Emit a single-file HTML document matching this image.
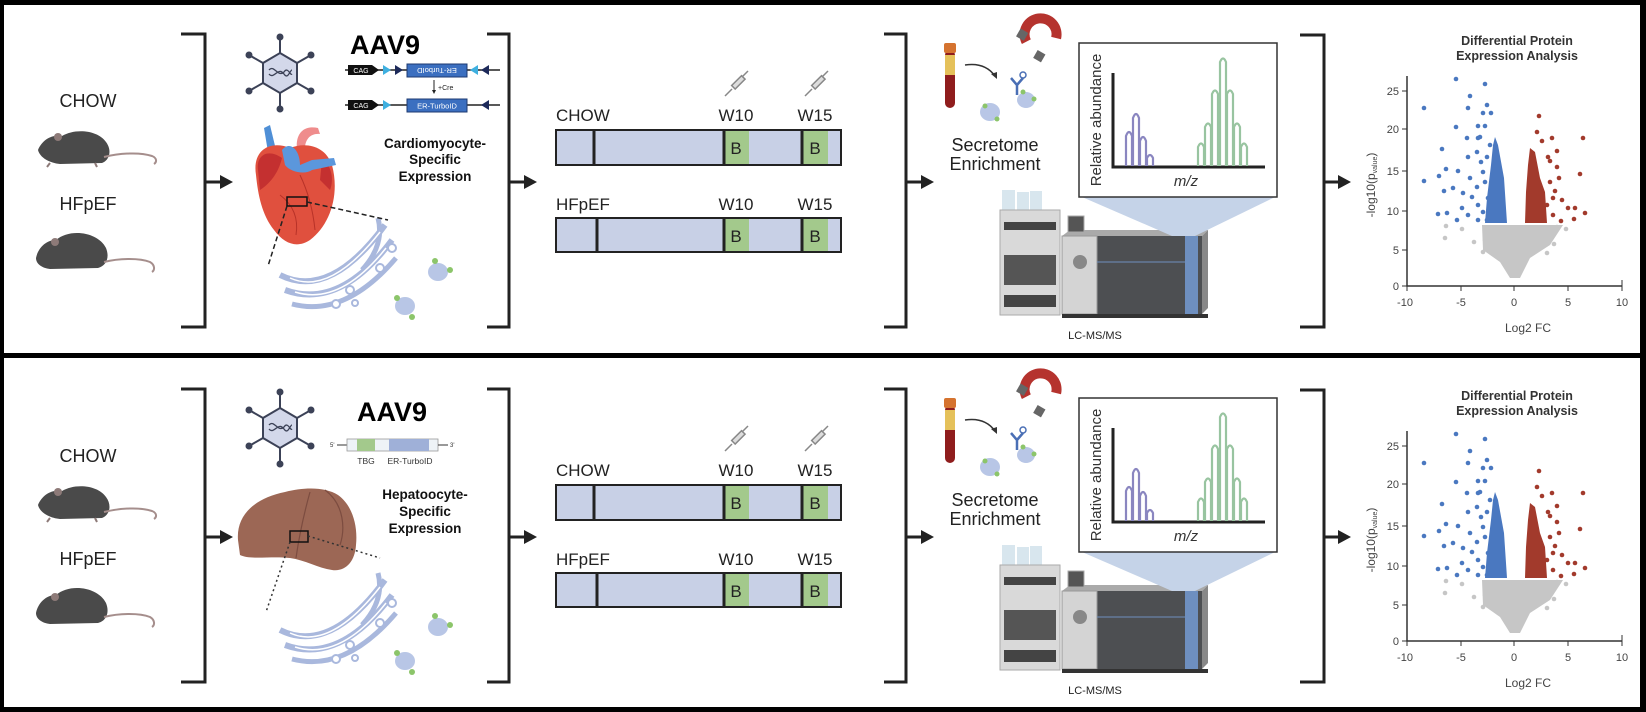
<!DOCTYPE html>
<html><head><meta charset="utf-8"><style>
html,body{margin:0;padding:0;background:#fff;}
svg{display:block;font-family:"Liberation Sans",Arial,sans-serif;}
</style></head><body>
<svg width="1646" height="712" viewBox="0 0 1646 712" xmlns="http://www.w3.org/2000/svg">
<defs>
<g id="mice">
  <!-- mouse 1 -->
  <path d="M38,150 C42,140 52,134 62,136 C75,128 98,130 106,142 C112,150 110,160 102,163 L60,164 C50,163 40,158 38,150 Z" fill="#4a4a4a"/>
  <circle cx="58" cy="137" r="4" fill="#8d7a78"/>
  <path d="M104,157 C120,153 140,152 152,156 C157,158 157,162 154,164" fill="none" stroke="#a58e8c" stroke-width="2"/>
  <path d="M50,163 l-3,4 M95,163 l2,4" stroke="#8d7a78" stroke-width="2"/>
  <!-- mouse 2 -->
  <path d="M36,258 C38,248 46,240 56,240 C70,228 98,232 106,248 C110,258 106,266 98,268 L50,269 C42,268 36,264 36,258 Z" fill="#4a4a4a"/>
  <circle cx="55" cy="242" r="4" fill="#8d7a78"/>
  <path d="M104,262 C120,258 140,258 150,262 C155,265 155,270 152,272" fill="none" stroke="#a58e8c" stroke-width="2"/>
  <!-- brackets & arrows -->
  <path d="M181,34 H205 V327 H181" fill="none" stroke="#222" stroke-width="3"/>
  <path d="M205,182 H222" stroke="#222" stroke-width="3"/><path d="M220,175 L233,182 L220,189 Z" fill="#222"/>
  <path d="M487,34 H509 V327 H487" fill="none" stroke="#222" stroke-width="3"/>
  <path d="M509,182 H526" stroke="#222" stroke-width="3"/><path d="M524,175 L537,182 L524,189 Z" fill="#222"/>
  <path d="M884,34 H906 V327 H884" fill="none" stroke="#222" stroke-width="3"/>
  <path d="M906,182 H923" stroke="#222" stroke-width="3"/><path d="M921,175 L934,182 L921,189 Z" fill="#222"/>
  <path d="M1300,35 H1324 V327 H1300" fill="none" stroke="#222" stroke-width="3"/>
  <path d="M1324,182 H1340" stroke="#222" stroke-width="3"/><path d="M1338,175 L1351,182 L1338,189 Z" fill="#222"/>
  <!-- hexagon virus -->
  <g stroke="#3c4257" stroke-width="2" fill="#3c4257">
    <line x1="280" y1="53" x2="280" y2="37"/><circle cx="280" cy="37" r="2.5"/>
    <line x1="280" y1="93" x2="280" y2="109"/><circle cx="280" cy="109" r="2.5"/>
    <line x1="263" y1="63" x2="249" y2="55"/><circle cx="249" cy="55" r="2.5"/>
    <line x1="297" y1="63" x2="311" y2="55"/><circle cx="311" cy="55" r="2.5"/>
    <line x1="263" y1="83" x2="249" y2="91"/><circle cx="249" cy="91" r="2.5"/>
    <line x1="297" y1="83" x2="311" y2="91"/><circle cx="311" cy="91" r="2.5"/>
  </g>
  <polygon points="280,53 297,63 297,83 280,93 263,83 263,63" fill="#d3d8ea" stroke="#3c4257" stroke-width="2"/>
  <path d="M269,70 C274,64 278,78 284,72 C288,66 290,76 292,74 M269,74 C274,80 278,66 284,74 C288,80 290,70 292,70" fill="none" stroke="#3c4257" stroke-width="1.3"/>
  <!-- ER -->
  <g fill="none" stroke="#a9b8dd">
    <path d="M280,275 Q330,300 385,225" stroke-width="6"/>
    <path d="M285,290 Q340,310 392,240" stroke-width="6"/>
    <path d="M292,304 Q345,318 396,258" stroke-width="5"/>
    <path d="M378,218 Q385,245 362,270" stroke-width="5"/>
  </g>
  <g fill="none" stroke="#fff" stroke-width="1.5">
    <path d="M290,278 Q330,296 380,232"/><path d="M295,292 Q340,306 386,248"/>
  </g>
  <g fill="#fff" stroke="#a9b8dd" stroke-width="2">
    <circle cx="392" cy="248" r="4"/><circle cx="380" cy="268" r="4"/><circle cx="350" cy="290" r="4"/>
    <circle cx="336" cy="304" r="4"/><circle cx="355" cy="303" r="3"/>
  </g>
  <!-- proteins -->
  <ellipse cx="438" cy="272" rx="10" ry="9" fill="#b8c6e6"/>
  <circle cx="435" cy="261" r="3" fill="#8cc56a"/><circle cx="450" cy="270" r="3" fill="#8cc56a"/>
  <ellipse cx="405" cy="306" rx="10" ry="9" fill="#b8c6e6"/>
  <circle cx="397" cy="298" r="3" fill="#8cc56a"/><circle cx="412" cy="317" r="3" fill="#8cc56a"/>
  <!-- timeline -->
  <g stroke="#222" stroke-width="2">
    <rect x="556" y="130" width="285" height="35" fill="#c8d0e6"/>
    <rect x="724" y="131" width="25" height="33" fill="#a3c98c" stroke="none"/>
    <rect x="802" y="131" width="26" height="33" fill="#a3c98c" stroke="none"/>
    <line x1="594" y1="130" x2="594" y2="165" stroke-width="3"/>
    <line x1="724" y1="130" x2="724" y2="165" stroke-width="3"/>
    <line x1="802" y1="130" x2="802" y2="165" stroke-width="3"/>
    <rect x="556" y="218" width="285" height="34" fill="#c8d0e6"/>
    <rect x="724" y="219" width="25" height="32" fill="#a3c98c" stroke="none"/>
    <rect x="802" y="219" width="26" height="32" fill="#a3c98c" stroke="none"/>
    <line x1="597" y1="218" x2="597" y2="252" stroke-width="3"/>
    <line x1="724" y1="218" x2="724" y2="252" stroke-width="3"/>
    <line x1="802" y1="218" x2="802" y2="252" stroke-width="3"/>
  </g>
  <g stroke="#888" stroke-width="1.5" fill="#ddd">
    <line x1="725" y1="96" x2="732" y2="89"/><rect x="731" y="80" width="14" height="5" transform="rotate(-45 738 82)"/><line x1="742" y1="77" x2="748" y2="71"/>
    <line x1="805" y1="96" x2="812" y2="89"/><rect x="811" y="80" width="14" height="5" transform="rotate(-45 818 82)"/><line x1="822" y1="77" x2="828" y2="71"/>
  </g>
  <!-- tube, magnet, antibody -->
  <rect x="945" y="50" width="10" height="58" rx="5" fill="#8f1d1d"/>
  <rect x="945" y="55" width="10" height="20" fill="#e5c15a"/>
  <rect x="944" y="43" width="12" height="10" rx="2" fill="#d5732f"/>
  <path d="M965,65 Q985,62 995,76" fill="none" stroke="#333" stroke-width="1.5"/><path d="M991,74 l6,5 l0,-7 z" fill="#333"/>
  <path d="M1030,48 A16,16 0 1 1 1054,30" fill="none" stroke="#b5332e" stroke-width="10" transform="rotate(30 1040 38)"/>
  <rect x="1018" y="30" width="9" height="9" fill="#666" transform="rotate(30 1022 34)"/>
  <rect x="1035" y="52" width="9" height="9" fill="#666" transform="rotate(30 1040 56)"/>
  <path d="M1017,95 L1017,85 L1011,78 M1017,85 L1023,78" fill="none" stroke="#4a6fb5" stroke-width="2.5"/>
  <circle cx="1023" cy="75" r="3" fill="none" stroke="#4a6fb5" stroke-width="1.5"/>
  <ellipse cx="990" cy="112" rx="10" ry="9" fill="#b8c6e6"/><circle cx="985" cy="106" r="2.5" fill="#8cc56a"/><circle cx="997" cy="119" r="2.5" fill="#8cc56a"/>
  <ellipse cx="1026" cy="100" rx="9" ry="8" fill="#b8c6e6"/><circle cx="1023" cy="92" r="2.5" fill="#8cc56a"/><circle cx="1034" cy="99" r="2.5" fill="#8cc56a"/>
  <!-- instrument -->
  <rect x="1002" y="190" width="13" height="20" fill="#d8e6ee"/><rect x="1017" y="192" width="12" height="18" fill="#d8e6ee"/><rect x="1030" y="191" width="12" height="19" fill="#d8e6ee"/>
  <rect x="1000" y="210" width="60" height="105" fill="#d9d9d9" stroke="#aaa"/>
  <rect x="1004" y="222" width="52" height="8" fill="#444"/>
  <rect x="1004" y="255" width="52" height="30" fill="#555"/>
  <rect x="1004" y="295" width="52" height="12" fill="#444"/>
  <rect x="1062" y="236" width="140" height="78" fill="#4d4f52"/>
  <path d="M1062,236 L1070,230 L1208,230 L1202,236 Z" fill="#aaa"/>
  <path d="M1202,236 L1208,230 L1208,308 L1202,314 Z" fill="#888"/>
  <rect x="1185" y="236" width="13" height="78" fill="#6e8fbf"/>
  <rect x="1062" y="236" width="35" height="78" fill="#d4d4d4" stroke="#999"/>
  <rect x="1068" y="216" width="16" height="16" fill="#555" stroke="#aaa"/>
  <circle cx="1080" cy="262" r="7" fill="#888"/>
  <line x1="1097" y1="262" x2="1185" y2="262" stroke="#6e8fbf" stroke-width="1"/>
  <rect x="1062" y="314" width="146" height="4" fill="#333"/>
  <!-- MS cone and box -->
  <polygon points="1082,197 1275,197 1195,236 1172,236" fill="#c5d3e8"/>
  <rect x="1079" y="43" width="198" height="154" fill="#fff" stroke="#333" stroke-width="1.5"/>
  <path d="M1113,73 V167 H1265" fill="none" stroke="#222" stroke-width="3"/>
  <g fill="none" stroke="#8a86c0" stroke-width="2.2">
    <path d="M1126,166 V136 Q1129,128 1132,136 V166"/>
    <path d="M1133,166 V118 Q1136,110 1139,118 V166"/>
    <path d="M1140,166 V141 Q1143,133 1146,141 V166"/>
    <path d="M1147,166 V158 Q1150,152 1153,158 V166"/>
  </g>
  <g fill="none" stroke="#98c4a0" stroke-width="2.2">
    <path d="M1198,166 V147 Q1201,140 1204,147 V166"/>
    <path d="M1205,166 V127 Q1208,120 1211,127 V166"/>
    <path d="M1212,166 V94 Q1215,87 1218,94 V166"/>
    <path d="M1220,166 V62 Q1223,55 1226,62 V166"/>
    <path d="M1227,166 V94 Q1230,87 1233,94 V166"/>
    <path d="M1234,166 V127 Q1237,120 1240,127 V166"/>
    <path d="M1241,166 V147 Q1244,140 1247,147 V166"/>
  </g>
  <!-- volcano -->
  <polygon points="1482,225 1563,225 1550,245 1530,258 1520,278 1510,278 1500,262 1483,250" fill="#c6c6c6"/>
  <polygon points="1495,137 1498,145 1504,178 1507,223 1485,223 1487,198 1491,165 1493,145" fill="#4a78c0"/>
  <polygon points="1530,148 1535,152 1540,178 1545,192 1547,223 1525,223 1526,192 1528,165" fill="#a23a2c"/>
  <g fill="#4a78c0">
    <circle cx="1424" cy="108" r="2.3"/><circle cx="1456" cy="79" r="2.3"/><circle cx="1485" cy="84" r="2.3"/><circle cx="1470" cy="96" r="2.3"/><circle cx="1487" cy="105" r="2.3"/><circle cx="1468" cy="108" r="2.3"/><circle cx="1456" cy="127" r="2.3"/><circle cx="1478" cy="126" r="2.3"/><circle cx="1485" cy="126" r="2.3"/><circle cx="1467" cy="138" r="2.3"/><circle cx="1442" cy="149" r="2.3"/><circle cx="1424" cy="181" r="2.3"/><circle cx="1446" cy="169" r="2.3"/><circle cx="1439" cy="176" r="2.3"/><circle cx="1458" cy="171" r="2.3"/><circle cx="1468" cy="157" r="2.3"/><circle cx="1444" cy="191" r="2.3"/><circle cx="1453" cy="188" r="2.3"/><circle cx="1462" cy="208" r="2.3"/><circle cx="1438" cy="214" r="2.3"/><circle cx="1447" cy="213" r="2.3"/><circle cx="1457" cy="220" r="2.3"/><circle cx="1468" cy="215" r="2.3"/><circle cx="1478" cy="205" r="2.3"/><circle cx="1477" cy="187" r="2.3"/><circle cx="1483" cy="172" r="2.3"/><circle cx="1487" cy="157" r="2.3"/><circle cx="1490" cy="145" r="2.3"/><circle cx="1477" cy="152" r="2.3"/><circle cx="1481" cy="162" r="2.3"/><circle cx="1470" cy="178" r="2.3"/><circle cx="1485" cy="182" r="2.3"/><circle cx="1488" cy="198" r="2.3"/><circle cx="1483" cy="212" r="2.3"/><circle cx="1478" cy="220" r="2.3"/><circle cx="1487" cy="220" r="2.3"/><circle cx="1472" cy="197" r="2.3"/><circle cx="1463" cy="193" r="2.3"/><circle cx="1480" cy="137" r="2.3"/><circle cx="1491" cy="113" r="2.3"/><circle cx="1483" cy="113" r="2.3"/><circle cx="1478" cy="138" r="2.3"/>
  </g>
  <g fill="#a23a2c">
    <circle cx="1539" cy="116" r="2.3"/><circle cx="1537" cy="132" r="2.3"/><circle cx="1542" cy="141" r="2.3"/><circle cx="1552" cy="138" r="2.3"/><circle cx="1583" cy="138" r="2.3"/><circle cx="1557" cy="151" r="2.3"/><circle cx="1550" cy="161" r="2.3"/><circle cx="1557" cy="167" r="2.3"/><circle cx="1559" cy="178" r="2.3"/><circle cx="1580" cy="174" r="2.3"/><circle cx="1555" cy="191" r="2.3"/><circle cx="1562" cy="200" r="2.3"/><circle cx="1568" cy="208" r="2.3"/><circle cx="1575" cy="208" r="2.3"/><circle cx="1585" cy="213" r="2.3"/><circle cx="1574" cy="219" r="2.3"/><circle cx="1561" cy="221" r="2.3"/><circle cx="1553" cy="215" r="2.3"/><circle cx="1547" cy="205" r="2.3"/><circle cx="1553" cy="198" r="2.3"/><circle cx="1550" cy="182" r="2.3"/><circle cx="1548" cy="157" r="2.3"/>
  </g>
  <g fill="#c6c6c6">
    <circle cx="1446" cy="226" r="2.3"/><circle cx="1445" cy="238" r="2.3"/><circle cx="1462" cy="229" r="2.3"/><circle cx="1474" cy="242" r="2.3"/><circle cx="1483" cy="252" r="2.3"/><circle cx="1533" cy="228" r="2.3"/><circle cx="1547" cy="240" r="2.3"/><circle cx="1557" cy="227" r="2.3"/><circle cx="1566" cy="229" r="2.3"/><circle cx="1554" cy="244" r="2.3"/><circle cx="1547" cy="253" r="2.3"/><circle cx="1485" cy="240" r="2.3"/><circle cx="1543" cy="235" r="2.3"/>
  </g>
  <path d="M1407,76 V286 H1622" fill="none" stroke="#333" stroke-width="1.5"/>
  <g stroke="#333" stroke-width="1">
    <line x1="1402" y1="91" x2="1407" y2="91"/><line x1="1402" y1="129" x2="1407" y2="129"/><line x1="1402" y1="171" x2="1407" y2="171"/><line x1="1402" y1="211" x2="1407" y2="211"/><line x1="1402" y1="250" x2="1407" y2="250"/><line x1="1402" y1="286" x2="1407" y2="286"/>
    <line x1="1407" y1="286" x2="1407" y2="291"/><line x1="1461" y1="286" x2="1461" y2="291"/><line x1="1514" y1="286" x2="1514" y2="291"/><line x1="1568" y1="286" x2="1568" y2="291"/><line x1="1622" y1="280" x2="1622" y2="291"/>
  </g>
</defs>

<!-- panel frames -->
<rect x="0" y="0" width="1646" height="5" fill="#000"/>
<rect x="0" y="353" width="1646" height="5" fill="#000"/>
<rect x="0" y="707" width="1646" height="5" fill="#000"/>
<rect x="0" y="0" width="4" height="712" fill="#000"/>
<rect x="1640" y="0" width="6" height="712" fill="#000"/>

<use href="#mice"/>
<use href="#mice" y="355"/>

<!-- ===== TOP PANEL TEXT & UNIQUE ===== -->
<g font-size="18" fill="#222" text-anchor="middle">
  <text x="88" y="107">CHOW</text><text x="88" y="210">HFpEF</text>
  <text x="88" y="462">CHOW</text><text x="88" y="565">HFpEF</text>
</g>
<text x="350" y="54" font-size="27" font-weight="bold" fill="#000">AAV9</text>
<!-- construct top -->
<line x1="345" y1="70" x2="500" y2="70" stroke="#222" stroke-width="1.5"/>
<path d="M348,65 H372 L379,70 L372,75 H348 Z" fill="#111"/><text x="361" y="73" font-size="7" fill="#fff" text-anchor="middle">CAG</text>
<path d="M383,65 L391,70 L383,75 Z" fill="#3fb0e0"/><path d="M395,65 L403,70 L395,75 Z" fill="#1d2a5a"/>
<rect x="407" y="64" width="60" height="13" fill="#3b6fc0" stroke="#1d3a70"/>
<text x="437" y="73" font-size="7.5" fill="#fff" text-anchor="middle" transform="rotate(180 437 70.5)">ER-TurboID</text>
<path d="M478,65 L470,70 L478,75 Z" fill="#3fb0e0"/><path d="M489,65 L481,70 L489,75 Z" fill="#1d2a5a"/>
<line x1="434" y1="80" x2="434" y2="92" stroke="#222" stroke-width="1"/><path d="M432,90 L434,94 L436,90 Z" fill="#222"/>
<text x="438" y="90" font-size="7" fill="#222">+Cre</text>
<line x1="345" y1="105" x2="500" y2="105" stroke="#222" stroke-width="1.5"/>
<path d="M348,100 H372 L379,105 L372,110 H348 Z" fill="#111"/><text x="361" y="108" font-size="7" fill="#fff" text-anchor="middle">CAG</text>
<path d="M383,100 L391,105 L383,110 Z" fill="#3fb0e0"/>
<rect x="407" y="99" width="60" height="13" fill="#3b6fc0" stroke="#1d3a70"/>
<text x="437" y="108.5" font-size="7.5" fill="#fff" text-anchor="middle">ER-TurboID</text>
<path d="M489,100 L481,105 L489,110 Z" fill="#1d2a5a"/>
<g font-size="13.5" font-weight="bold" fill="#111" text-anchor="middle">
  <text x="435" y="148">Cardiomyocyte-</text><text x="435" y="164">Specific</text><text x="435" y="181">Expression</text>
</g>
<!-- heart -->
<path d="M264,128 L270,125 L276,150 L268,152 Z" fill="#4f8fd6"/>
<path d="M297,150 C295,132 305,125 318,128 L320,134 C310,133 304,140 305,152 Z" fill="#ef8c8c"/>
<path d="M256,175 C252,150 270,140 290,148 C305,142 325,145 332,165 C340,195 330,225 310,240 C298,248 285,245 274,230 C262,215 258,195 256,175 Z" fill="#e0503e"/>
<path d="M258,170 C256,155 268,148 282,158 C278,175 268,185 260,190 Z" fill="#c43030"/>
<path d="M322,160 C332,165 334,180 330,190 L320,180 Z" fill="#c43030"/>
<path d="M282,150 C290,140 300,150 300,165 L312,160 L334,158 L336,165 L312,170 C305,175 290,172 285,165 Z" fill="#5b97dc"/>
<path d="M280,195 Q300,210 296,235 M300,175 Q312,200 315,230" fill="none" stroke="#b83228" stroke-width="1"/>
<rect x="287" y="197" width="20" height="9" fill="none" stroke="#111" stroke-width="1.5"/>
<line x1="287" y1="206" x2="268" y2="266" stroke="#222" stroke-width="1.5" stroke-dasharray="5,3"/>
<line x1="307" y1="202" x2="388" y2="220" stroke="#222" stroke-width="1.5" stroke-dasharray="5,3"/>

<!-- ===== BOTTOM PANEL UNIQUE ===== -->
<text x="357" y="421" font-size="27" font-weight="bold" fill="#000">AAV9</text>
<text x="330" y="447" font-size="6" fill="#333">5'</text>
<line x1="337" y1="445" x2="347" y2="445" stroke="#333"/>
<rect x="347" y="439" width="91" height="12" fill="#eef3f7" stroke="#999" stroke-width="0.8"/>
<rect x="357" y="439" width="18" height="12" fill="#a3c98c"/>
<rect x="389" y="439" width="40" height="12" fill="#9fb0d8"/>
<line x1="438" y1="445" x2="448" y2="445" stroke="#333"/>
<text x="450" y="447" font-size="6" fill="#333">3'</text>
<text x="366" y="464" font-size="8.5" fill="#333" text-anchor="middle">TBG</text>
<text x="410" y="464" font-size="8.5" fill="#333" text-anchor="middle">ER-TurboID</text>
<g font-size="13.5" font-weight="bold" fill="#111" text-anchor="middle">
  <text x="425" y="499">Hepatoocyte-</text><text x="425" y="516">Specific</text><text x="425" y="533">Expression</text>
</g>
<path d="M238,540 C236,515 255,498 285,492 C305,487 325,487 338,495 C352,505 358,525 356,545 C355,562 345,572 332,570 C318,568 305,560 290,558 C270,556 250,560 240,555 Z" fill="#9c6755"/>
<path d="M310,492 C305,510 300,530 296,558 M325,490 C345,505 345,530 340,545" fill="none" stroke="#7c4c40" stroke-width="1.2"/>
<rect x="290" y="531" width="18" height="11" fill="none" stroke="#111" stroke-width="1.5"/>
<line x1="290" y1="542" x2="266" y2="612" stroke="#333" stroke-width="1.5" stroke-dasharray="2,3"/>
<line x1="308" y1="536" x2="380" y2="558" stroke="#333" stroke-width="1.5" stroke-dasharray="2,3"/>

<!-- ===== SHARED TEXT (both panels) ===== -->
<g font-size="17" fill="#222" text-anchor="middle">
  <text x="590" y="121" text-anchor="start" dx="-34">CHOW</text><text x="736" y="121">W10</text><text x="815" y="121">W15</text>
  <text x="580" y="210" text-anchor="start" dx="-24">HFpEF</text><text x="736" y="210">W10</text><text x="815" y="210">W15</text>
  <text x="590" y="476" text-anchor="start" dx="-34">CHOW</text><text x="736" y="476">W10</text><text x="815" y="476">W15</text>
  <text x="580" y="565" text-anchor="start" dx="-24">HFpEF</text><text x="736" y="565">W10</text><text x="815" y="565">W15</text>
</g>
<g font-size="17" fill="#222" text-anchor="middle">
  <text x="736" y="154">B</text><text x="815" y="154">B</text><text x="736" y="242">B</text><text x="815" y="242">B</text>
  <text x="736" y="509">B</text><text x="815" y="509">B</text><text x="736" y="597">B</text><text x="815" y="597">B</text>
</g>
<g font-size="18" fill="#222" text-anchor="middle">
  <text x="995" y="151">Secretome</text><text x="995" y="170">Enrichment</text>
  <text x="995" y="506">Secretome</text><text x="995" y="525">Enrichment</text>
</g>
<g font-size="11" fill="#222" text-anchor="middle">
  <text x="1095" y="339">LC-MS/MS</text><text x="1095" y="694">LC-MS/MS</text>
</g>
<g font-size="15" fill="#333" text-anchor="middle">
  <text transform="translate(1101 120) rotate(-90)">Relative abundance</text>
  <text transform="translate(1101 475) rotate(-90)">Relative abundance</text>
  <text x="1186" y="186" font-style="italic">m/z</text><text x="1186" y="541" font-style="italic">m/z</text>
</g>
<g font-size="12.5" font-weight="bold" fill="#333" text-anchor="middle">
  <text x="1517" y="45">Differential Protein</text><text x="1517" y="60">Expression Analysis</text>
  <text x="1517" y="400">Differential Protein</text><text x="1517" y="415">Expression Analysis</text>
</g>
<g font-size="11" fill="#444" text-anchor="middle">
  <text x="1405" y="306">-10</text><text x="1461" y="306">-5</text><text x="1514" y="306">0</text><text x="1568" y="306">5</text><text x="1622" y="306">10</text>
  <text x="1405" y="661">-10</text><text x="1461" y="661">-5</text><text x="1514" y="661">0</text><text x="1568" y="661">5</text><text x="1622" y="661">10</text>
  <text x="1528" y="332" font-size="12">Log2 FC</text><text x="1528" y="687" font-size="12">Log2 FC</text>
</g>
<g font-size="11" fill="#444" text-anchor="end">
  <text x="1399" y="95">25</text><text x="1399" y="133">20</text><text x="1399" y="175">15</text><text x="1399" y="215">10</text><text x="1399" y="254">5</text><text x="1399" y="290">0</text>
  <text x="1399" y="450">25</text><text x="1399" y="488">20</text><text x="1399" y="530">15</text><text x="1399" y="570">10</text><text x="1399" y="609">5</text><text x="1399" y="645">0</text>
</g>
<g font-size="12" fill="#444" text-anchor="middle">
  <text transform="translate(1375 185) rotate(-90)">-log10(p<tspan font-size="7" dy="2">value</tspan><tspan dy="-2">)</tspan></text>
  <text transform="translate(1375 540) rotate(-90)">-log10(p<tspan font-size="7" dy="2">value</tspan><tspan dy="-2">)</tspan></text>
</g>
</svg>
</body></html>
